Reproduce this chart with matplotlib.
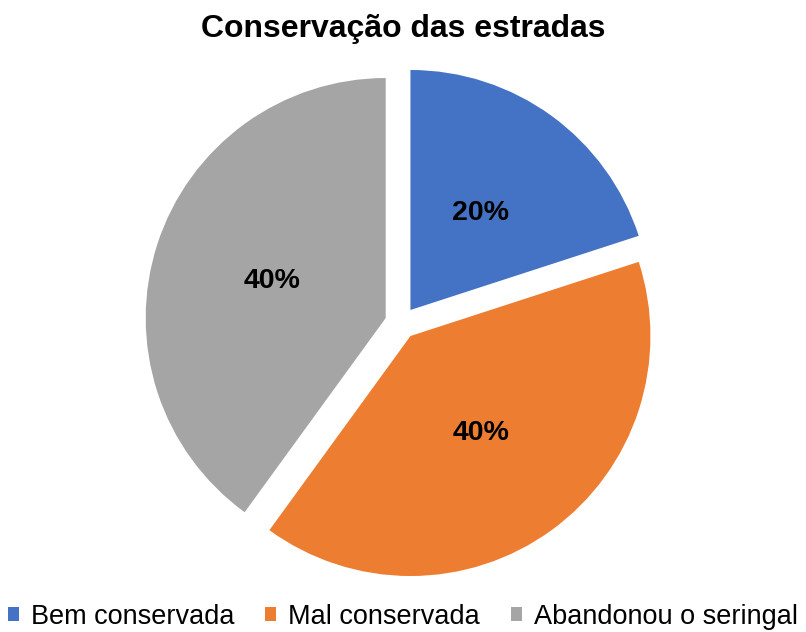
import matplotlib.pyplot as plt
from matplotlib.patches import Patch

plt.rcParams['font.family'] = ['Liberation Sans', 'DejaVu Sans']

# distribuição das respostas sobre as estradas
labels = ['Bem conservada', 'Mal conservada', 'Abandonou o seringal']
values = [20, 40, 40]
colors = ['#4472C4', '#ED7D31', '#A5A5A5']

fig = plt.figure(figsize=(8.06, 6.32), dpi=100)
ax = fig.add_axes([0, 0, 1, 1])

wedges, texts, autotexts = ax.pie(
    values, colors=colors, startangle=90, counterclock=False,
    explode=[0.067] * 3, autopct='%1.0f%%', pctdistance=0.5,
    wedgeprops=dict(linewidth=0),
    textprops=dict(fontsize=20.5, fontweight='bold', color='black'))

# centro do gráfico em (401, 323) px, raio de 240 px
ax.set_xlim(-401 / 240, (806 - 401) / 240)
ax.set_ylim(-(632 - 323) / 240, 323 / 240)
ax.set_aspect('equal')
ax.axis('off')

fig.text(0.5, 1 - 29 / 632, 'Conservação das estradas', ha='center', va='center',
         fontsize=23, fontweight='bold')

handles = [Patch(facecolor=c, edgecolor='none') for c in colors]
fig.legend(handles, labels, loc='center', bbox_to_anchor=(0.5, 1 - 617 / 632),
           ncol=3, frameon=False, fontsize=19.5, handlelength=0.4, handleheight=0.4,
           handletextpad=0.45, columnspacing=1.15, borderpad=0)

fig.savefig('out.png', dpi=100)
